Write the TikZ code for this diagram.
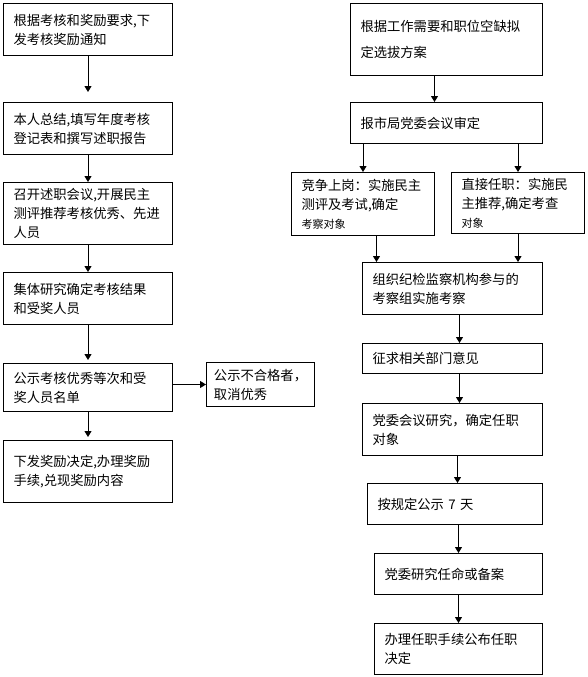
\documentclass[tikz,border=0pt]{standalone}
\usepackage{fontspec}
\newfontfamily\cjk{Noto Sans CJK SC}
\usetikzlibrary{arrows.meta, positioning, calc}

\begin{document}
\begin{tikzpicture}[
    x=1pt, y=1pt,
    box/.style={rectangle, draw, line width=1pt, inner xsep=10pt, inner ysep=0pt, align=left, font=\cjk\fontsize{13.3}{19}\selectfont},
    lbox/.style={box, text width=149pt},
    rbox/.style={box, text width=160pt},
    arrow/.style={-{Triangle[width=7pt,length=6pt]}, line width=1pt},
    node distance=27pt
]

    \useasboundingbox (0,0) rectangle (587,-677);

    % Left column: assessment and rewards
    \node[lbox, minimum height=52pt, anchor=north west] (notice) at (3,-3) {根据考核和奖励要求,下\\发考核奖励通知};
    \node[lbox, minimum height=52pt, below=46pt of notice] (summary) {本人总结,填写年度考核\\登记表和撰写述职报告};
    \node[lbox, minimum height=62pt, below=27pt of summary] (meeting) {召开述职会议,开展民主\\测评推荐考核优秀、先进\\人员};
    \node[lbox, minimum height=52pt, below=27pt of meeting] (research) {集体研究确定考核结果\\和受奖人员};
    \node[lbox, minimum height=48pt, below=38pt of research] (publish) {公示考核优秀等次和受\\奖人员名单};
    \node[lbox, minimum height=62pt, below=28pt of publish] (reward) {下发奖励决定,办理奖励\\手续,兑现奖励内容};
    \node[box, inner xsep=6pt, minimum width=108pt, minimum height=44pt, right=33pt of publish, yshift=3pt] (disqualify) {公示不合格者，\\取消优秀};

    % Right column: selection and appointment
    \node[box, text width=172pt, minimum height=72pt, anchor=north west, font=\cjk\fontsize{13.3}{26}\selectfont] (plan) at (350,-3) {根据工作需要和职位空缺拟\\定选拔方案};
    \node[box, text width=172pt, minimum height=41pt, below=26pt of plan] (review) {报市局党委会议审定};
    \node[box, text width=123pt, minimum height=63pt, anchor=north west] (compete) at (291,-172) {竞争上岗：实施民主\\测评及考试,确定\\{\fontsize{11}{14}\selectfont 考察对象}};
    \node[box, text width=113pt, minimum height=61pt, anchor=north west] (direct) at (451,-172) {直接任职：实施民\\主推荐,确定考查\\{\fontsize{11}{14}\selectfont 对象}};
    \node[rbox, minimum height=52pt, anchor=north west] (inspect) at (362,-262) {组织纪检监察机构参与的\\考察组实施考察};
    \node[rbox, minimum height=30pt, below=28pt of inspect] (opinion) {征求相关部门意见};
    \node[rbox, minimum height=52pt, below=29pt of opinion] (decide) {党委会议研究，确定任职\\对象};
    \node[box, text width=155pt, minimum height=41pt, below=27pt of decide.south east, anchor=north east] (publicity) {按规定公示 7 天};
    \node[box, text width=148pt, minimum height=41pt, below=28pt of publicity.south east, anchor=north east] (appoint) {党委研究任命或备案};
    \node[box, text width=148pt, minimum height=51pt, below=28pt of appoint] (formalize) {办理任职手续公布任职\\决定};

    % Left arrows
    \draw[arrow, shorten >=10pt] (notice) -- (summary);
    \draw[arrow] (summary) -- (meeting);
    \draw[arrow] (meeting) -- (research);
    \draw[arrow, shorten >=3pt] (research) -- (publish);
    \draw[arrow] (publish.east |- disqualify.west) -- (disqualify.west);
    \draw[arrow, shorten >=3pt] (publish) -- (reward);

    % Right arrows
    \draw[arrow] ([xshift=-12pt]plan.south) -- ([xshift=-12pt]review.north);
    \draw[arrow] (compete.north |- review.south) -- (compete.north);
    \draw[arrow] (direct.north |- review.south) -- (direct.north);
    \draw[arrow] ([xshift=13.5pt]compete.south) -- ([xshift=13.5pt]compete.south |- inspect.north);
    \draw[arrow] (direct.south) -- (direct.south |- inspect.north);
    \draw[arrow] ([xshift=7pt]inspect.south) -- ([xshift=7pt]opinion.north);
    \draw[arrow] ([xshift=7pt]opinion.south) -- ([xshift=7pt]decide.north);
    \draw[arrow] ([xshift=5pt]decide.south) -- ([xshift=5pt]decide.south |- publicity.north);
    \draw[arrow] (appoint.north |- publicity.south) -- (appoint.north);
    \draw[arrow] (appoint) -- (formalize);

\end{tikzpicture}
\end{document}
